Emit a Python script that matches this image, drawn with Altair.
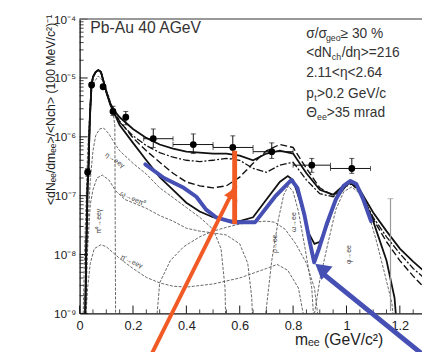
import altair as alt
import pandas as pd

# ---------------- measured data points ----------------
pt_m   = [0.03, 0.045, 0.088, 0.125, 0.173, 0.276, 0.426, 0.574, 0.72, 0.87, 1.02]
pt_v   = [2.5e-7, 7.6e-6, 7.1e-6, 2.7e-6, 2.15e-6, 9.3e-7, 7.4e-7, 6.6e-7, 5.6e-7, 3.3e-7, 2.9e-7]
pt_hi  = [2.9e-7, 8.3e-6, 7.6e-6, 3.3e-6, 2.7e-6, 1.36e-6, 1.12e-6, 1.04e-6, 7.9e-7, 4.3e-7, 4.3e-7]
pt_lo  = [2.15e-7, 7.1e-6, 6.6e-6, 2.3e-6, 1.6e-6, 6.6e-7, 5.2e-7, 4.3e-7, 4.3e-7, 2.5e-7, 2.4e-7]
pt_xlo = [0.03, 0.045, 0.088, 0.125, 0.173, 0.24, 0.35, 0.50, 0.65, 0.80, 0.94]
pt_xhi = [0.03, 0.045, 0.088, 0.125, 0.173, 0.35, 0.50, 0.65, 0.80, 0.94, 1.09]

# systematic error bar
sys_m = [1.165]
sys_lo = [1.1e-9]
sys_hi = [8.9e-8]

# ---------------- summed curves ----------------
sum_m = [0.02, 0.025, 0.03, 0.033, 0.038, 0.044, 0.05, 0.06, 0.07, 0.08, 0.09, 0.1, 0.115, 0.13,
         0.15, 0.2, 0.25, 0.3, 0.35, 0.4, 0.45, 0.5, 0.55, 0.6, 0.65, 0.7, 0.75, 0.8, 0.85, 0.9,
         0.95, 1.0, 1.02, 1.05, 1.1, 1.15, 1.2, 1.25, 1.3]
total_v = [5e-10, 1.26e-8, 1.52e-7, 2.7e-7, 1.85e-6, 7.1e-6, 1.04e-5, 1.26e-5, 1.36e-5, 1.26e-5, 8.6e-6,
           5.8e-6, 3.7e-6, 2.8e-6, 2.15e-6, 1.36e-6, 9.6e-7, 7.4e-7, 6.3e-7, 5.6e-7, 5.4e-7, 5.2e-7,
           5.2e-7, 4.8e-7, 4.0e-7, 5.2e-7, 5.8e-7, 5.2e-7, 2.4e-7, 1.26e-7, 1.04e-7, 1.65e-7, 1.71e-7,
           1.26e-7, 5.2e-8, 2.5e-8, 1.26e-8, 7.6e-9, 4.8e-9]
dashed_v = [5e-10, 1.26e-8, 1.52e-7, 2.7e-7, 1.85e-6, 7.1e-6, 1.04e-5, 1.26e-5, 1.36e-5, 1.26e-5, 8.6e-6,
            5.8e-6, 3.6e-6, 2.6e-6, 1.85e-6, 9.6e-7, 5.8e-7, 3.7e-7, 2.4e-7, 1.71e-7, 1.47e-7, 1.36e-7,
            1.47e-7, 2.07e-7, 3.55e-7, 5.8e-7, 7.4e-7, 6.6e-7, 2.9e-7, 1.36e-7, 1.0e-7, 1.47e-7, 1.58e-7,
            1.17e-7, 4.0e-8, 1.65e-8, 7.9e-9, 4.3e-9, 2.5e-9]
dashdot_v = [5e-10, 1.26e-8, 1.52e-7, 2.7e-7, 1.85e-6, 7.1e-6, 1.04e-5, 1.26e-5, 1.36e-5, 1.26e-5, 8.6e-6,
             5.8e-6, 3.65e-6, 2.7e-6, 1.78e-6, 1.04e-6, 7.1e-7, 5.4e-7, 4.5e-7, 4.0e-7, 3.8e-7, 4.0e-7,
             4.3e-7, 4.0e-7, 2.9e-7, 2.5e-7, 3.3e-7, 3.7e-7, 1.85e-7, 1.08e-7, 9.6e-8, 1.47e-7, 1.58e-7,
             1.17e-7, 4.3e-8, 2.0e-8, 1.04e-8, 5.8e-9, 3.7e-9]

cock_m = [0.02, 0.025, 0.03, 0.033, 0.038, 0.044, 0.05, 0.06, 0.07, 0.08, 0.09, 0.1, 0.115, 0.13, 0.15,
          0.2, 0.25, 0.3, 0.35, 0.4, 0.45, 0.5, 0.55, 0.6, 0.65, 0.7, 0.75, 0.78, 0.8, 0.83, 0.86, 0.88,
          0.9, 0.93, 0.96, 1.0, 1.02, 1.05, 1.1, 1.15, 1.18, 1.19]
cock_v = [5e-10, 1.26e-8, 1.52e-7, 2.7e-7, 1.85e-6, 7.1e-6, 1.04e-5, 1.26e-5, 1.36e-5, 1.26e-5, 8.6e-6,
          5.8e-6, 3.5e-6, 2.5e-6, 1.58e-6, 7.9e-7, 4.0e-7, 2.07e-7, 1.26e-7, 7.6e-8, 5.4e-8, 4.3e-8,
          3.8e-8, 3.7e-8, 4.3e-8, 8.6e-8, 1.71e-7, 2.15e-7, 1.85e-7, 7.1e-8, 2.24e-8, 1.52e-8, 1.65e-8,
          3.3e-8, 8.6e-8, 1.52e-7, 1.71e-7, 1.26e-7, 3.7e-8, 7.9e-9, 1.85e-9, 5e-10]

# ---------------- individual sources (thin) ----------------
pi0_m = [0.012, 0.02, 0.03, 0.04, 0.05, 0.07, 0.09, 0.11, 0.125, 0.132, 0.135]
pi0_v = [5e-10, 1.85e-8, 5.8e-7, 4.0e-6, 7.9e-6, 1.08e-5, 8.6e-6, 4.8e-6, 2.7e-6, 1.52e-6, 5e-10]
eta_m = [0.02, 0.03, 0.04, 0.05, 0.06, 0.075, 0.09, 0.11, 0.13, 0.15, 0.2, 0.25, 0.3, 0.35, 0.4, 0.45,
         0.5, 0.53, 0.545, 0.548]
eta_v = [5e-10, 2.7e-8, 1.85e-7, 5.8e-7, 1.04e-6, 1.36e-6, 1.41e-6, 1.12e-6, 7.9e-7, 5.8e-7, 3.55e-7,
         2.33e-7, 1.36e-7, 9.3e-8, 6.3e-8, 4.3e-8, 2.7e-8, 1.26e-8, 2.7e-9, 5e-10]
omd_m = [0.02, 0.03, 0.04, 0.05, 0.065, 0.085, 0.11, 0.135, 0.17, 0.2, 0.25, 0.3, 0.35, 0.4, 0.45, 0.5,
         0.55, 0.6, 0.63, 0.645, 0.65]
omd_v = [5e-10, 1.26e-8, 7.1e-8, 1.26e-7, 2.0e-7, 2.24e-7, 1.85e-7, 1.21e-7, 8.6e-8, 7.6e-8, 6.1e-8,
         4.6e-8, 3.7e-8, 2.8e-8, 2.5e-8, 2.33e-8, 2.15e-8, 1.52e-8, 7.1e-9, 1.85e-9, 5e-10]
etap_m = [0.02, 0.03, 0.04, 0.055, 0.08, 0.1, 0.15, 0.2, 0.25, 0.3, 0.35, 0.4, 0.5, 0.6, 0.7, 0.74,
          0.78, 0.82, 0.85]
etap_v = [5e-10, 2.7e-9, 7.1e-9, 1.26e-8, 1.47e-8, 1.36e-8, 8.6e-9, 5.8e-9, 4.1e-9, 3.3e-9, 2.9e-9,
          2.8e-9, 3.16e-9, 4.0e-9, 5.8e-9, 6.8e-9, 5.4e-9, 2.7e-9, 5e-10]
rho_m = [0.285, 0.3, 0.34, 0.39, 0.45, 0.5, 0.55, 0.6, 0.65, 0.7, 0.73, 0.77, 0.81, 0.85, 0.88, 0.9]
rho_v = [5e-10, 3.3e-9, 7.9e-9, 1.36e-8, 2.0e-8, 2.5e-8, 2.9e-8, 3.3e-8, 3.55e-8, 3.7e-8, 3.55e-8,
         2.7e-8, 1.52e-8, 7.1e-9, 2.7e-9, 5e-10]
omg_m = [0.69, 0.72, 0.745, 0.765, 0.782, 0.8, 0.82, 0.845, 0.87, 0.88]
omg_v = [5e-10, 7.9e-9, 4.0e-8, 1.04e-7, 1.47e-7, 1.17e-7, 5.4e-8, 1.26e-8, 2.7e-9, 5e-10]
phi_m = [0.87, 0.9, 0.93, 0.96, 0.99, 1.02, 1.05, 1.08, 1.11, 1.14, 1.17, 1.18]
phi_v = [5e-10, 3.7e-9, 1.52e-8, 5.8e-8, 1.17e-7, 1.41e-7, 1.08e-7, 5.4e-8, 1.85e-8, 5.4e-9, 1.52e-9, 5e-10]

comp_labels = ["π⁰→eeγ", "η→eeγ", "ω→eeπ⁰", "η'→eeγ", "ρ→ee", "ω→ee", "φ→ee"]
comp_lab_m = [0.074, 0.132, 0.199, 0.195, 0.732, 0.805, 1.011]
comp_lab_v = [3.7e-8, 4.0e-7, 8.9e-8, 7.6e-9, 1.52e-8, 3.55e-8, 1.0e-8]
comp_lab_ang = [270, 35, 25, 25, 270, 270, 270]

# ---------------- slide annotations ----------------
blue_m = [0.246, 0.316, 0.39, 0.4375, 0.474, 0.511, 0.574, 0.658, 0.732, 0.768, 0.794, 0.816, 0.842,
          0.864, 0.879, 0.897, 0.926, 0.96, 0.989, 1.015, 1.037, 1.063, 1.092]
blue_v = [3.4e-7, 2.0e-7, 1.36e-7, 9.6e-8, 5.8e-8, 4.3e-8, 3.55e-8, 3.55e-8, 9.6e-8, 1.41e-7, 1.85e-7,
          1.36e-7, 4.8e-8, 1.52e-8, 7.4e-9, 1.26e-8, 3.3e-8, 8.6e-8, 1.47e-7, 1.78e-7, 1.58e-7, 8.6e-8, 3.7e-8]
# arrows: [x_tail, x_tip], [y_tail, y_tip]
org_bar_m = [0.581, 0.581]
org_bar_v = [5.8e-7, 3.3e-8]
org_arrow_m = [0.261, 0.585]
org_arrow_v = [1.7e-10, 1.5e-7]
org_head = (0.577, 1.12e-7, 27)
blue_arrow_m = [1.32, 0.915]
blue_arrow_v = [1.5e-10, 4.6e-9]
blue_head = (0.905, 5.8e-9, 309)

# text block
info_text = ["σ/σ", "geo", "≥ 30 %", "<dN", "ch", "/dη>=216", "2.11<η<2.64", "p", "t", ">0.2 GeV/c",
             "Θ", "ee", ">35 mrad"]
info_m = [0.849, 0.923, 0.978, 0.849, 0.945, 0.982, 0.849, 0.849, 0.879, 0.89, 0.849, 0.89, 0.926]
info_v = [5.6e-5, 4.8e-5, 5.6e-5, 2.6e-5, 2.24e-5, 2.6e-5, 1.21e-5, 5.4e-6, 4.6e-6, 5.4e-6, 2.5e-6, 2.15e-6, 2.5e-6]
info_fs = [14, 9, 14, 14, 9, 14, 14, 14, 9, 14, 14, 9, 14]

# axes ticks
x_labels = [0, 0.2, 0.4, 0.6, 0.8, 1.0, 1.2]
x_minor = [0.05, 0.1, 0.15, 0.25, 0.3, 0.35, 0.45, 0.5, 0.55, 0.65, 0.7, 0.75, 0.85, 0.9, 0.95, 1.05, 1.1, 1.15, 1.25]
y_major = [1e-9, 1e-8, 1e-7, 1e-6, 1e-5, 1e-4]
y_minor = [k * 10.0 ** e for e in range(-9, -4) for k in range(2, 10)]

XMAX = 1.283
BLUE = "#4650b4"
ORANGE = "#f15a24"
FONT = "Liberation Sans"

xs = alt.Scale(domain=[0, XMAX], nice=False, zero=False)
ys = alt.Scale(type="log", domain=[1e-9, 1e-4], nice=False)
xaxis = alt.Axis(values=x_labels, format="~g", ticks=False, grid=False, labelFlush=False,
                 labelPadding=6, labelFontSize=13, title="mₑₑ (GeV/c²)", titleFontSize=16,
                 titleFontWeight="normal", titleX=264, titleY=27, titleBaseline="middle",
                 titleAlign="center")
yaxis = alt.Axis(values=y_major, ticks=False, grid=False, labelFlush=False, labelPadding=4,
                 labelFontSize=12,
                 labelExpr="['10⁻⁹','10⁻⁸','10⁻⁷','10⁻⁶','10⁻⁵','10⁻⁴'][round(log(datum.value)/LN10)+9]",
                 title="<dNₑₑ/dmₑₑ>/<Nch> (100 MeV/c²)⁻¹", titleFontSize=12.5, titleFontWeight="normal",
                 titleX=-30, titleY=92, titleAngle=270, titleBaseline="middle", titleAlign="center")

X = alt.X("m:Q", scale=xs, axis=xaxis)
Y = alt.Y("v:Q", scale=ys, axis=yaxis)


def df(ms, vs, **extra):
    d = pd.DataFrame({"m": ms, "v": vs})
    for k, val in extra.items():
        d[k] = val
    return d


# thin component curves
thin = pd.concat([
    df(pi0_m, pi0_v, c="pi0"), df(eta_m, eta_v, c="eta"), df(omd_m, omd_v, c="omd"),
    df(etap_m, etap_v, c="etap"), df(rho_m, rho_v, c="rho"), df(omg_m, omg_v, c="omg"),
    df(phi_m, phi_v, c="phi")])
thin_layer = alt.Chart(thin).mark_line(color="#555", strokeWidth=0.9, strokeDash=[3, 1.5], clip=True).encode(
    x=X, y=Y, detail="c:N")

total_layer = alt.Chart(df(sum_m, total_v)).mark_line(color="#111", strokeWidth=1.8, clip=True).encode(x=X, y=Y)
dashed_layer = alt.Chart(df(sum_m, dashed_v)).mark_line(color="#111", strokeWidth=1.4, strokeDash=[7, 3],
                                                       clip=True).encode(x=X, y=Y)
dashdot_layer = alt.Chart(df(sum_m, dashdot_v)).mark_line(color="#111", strokeWidth=1.3,
                                                         strokeDash=[7, 2, 2, 2], clip=True).encode(x=X, y=Y)
cock_layer = alt.Chart(df(cock_m, cock_v)).mark_line(color="#111", strokeWidth=1.8, clip=True).encode(x=X, y=Y)

# systematic bar
sys_df = pd.DataFrame({"m": sys_m, "v": sys_lo, "v2": sys_hi})
sys_layer = alt.Chart(sys_df).mark_rule(color="#999", strokeWidth=1.2).encode(x=X, y=Y, y2="v2:Q")
sys_cap = alt.Chart(pd.DataFrame({"m": sys_m, "v": sys_hi})).mark_tick(
    orient="horizontal", size=6, thickness=1, color="#999").encode(x=X, y=Y)

# data points with errors
pts = pd.DataFrame({"m": pt_m, "v": pt_v, "lo": pt_lo, "hi": pt_hi, "xlo": pt_xlo, "xhi": pt_xhi})
verr = alt.Chart(pts.assign(v=pts["lo"], v2=pts["hi"])).mark_rule(color="#111", strokeWidth=1).encode(
    x=X, y=Y, y2="v2:Q")
herr = alt.Chart(pts.assign(m=pts["xlo"], m2=pts["xhi"])).mark_rule(color="#111", strokeWidth=1).encode(
    x=X, x2="m2:Q", y=Y)
caps_df = pd.concat([pts.assign(v=pts["hi"]), pts.assign(v=pts["lo"])])
vcaps = alt.Chart(caps_df).mark_tick(orient="horizontal", size=5, thickness=1, color="#111").encode(x=X, y=Y)
binned = pts[pts["xhi"] > pts["xlo"]]
hcaps_df = pd.concat([binned.assign(m=binned["xlo"]), binned.assign(m=binned["xhi"])])
hcaps = alt.Chart(hcaps_df).mark_tick(orient="vertical", size=5, thickness=1, color="#111").encode(x=X, y=Y)
dots = alt.Chart(pts).mark_circle(color="#000", size=48, opacity=1).encode(x=X, y=Y)

# annotations
blue_line = alt.Chart(df(blue_m, blue_v)).mark_line(color=BLUE, strokeWidth=4, strokeCap="round",
                                                    strokeJoin="round").encode(x=X, y=Y)
org_bar = alt.Chart(pd.DataFrame({"m": [org_bar_m[0]], "v": [org_bar_v[0]], "v2": [org_bar_v[1]]})).mark_rule(
    color=ORANGE, strokeWidth=5).encode(x=X, y=Y, y2="v2:Q")
org_arrow = alt.Chart(pd.DataFrame({"m": [org_arrow_m[0]], "m2": [org_arrow_m[1]],
                                    "v": [org_arrow_v[0]], "v2": [org_arrow_v[1]]})).mark_rule(
    color=ORANGE, strokeWidth=4).encode(x=X, x2="m2:Q", y=Y, y2="v2:Q")
blue_arrow = alt.Chart(pd.DataFrame({"m": [blue_arrow_m[0]], "m2": [blue_arrow_m[1]],
                                     "v": [blue_arrow_v[0]], "v2": [blue_arrow_v[1]]})).mark_rule(
    color=BLUE, strokeWidth=5).encode(x=X, x2="m2:Q", y=Y, y2="v2:Q")
heads_df = pd.DataFrame({"m": [org_head[0], blue_head[0]], "v": [org_head[1], blue_head[1]],
                         "a": [org_head[2], blue_head[2]], "col": [ORANGE, BLUE],
                         "s": [230, 320]})
heads = alt.Chart(heads_df).mark_point(shape="triangle-up", filled=True, opacity=1, strokeWidth=0).encode(
    x=X, y=Y, angle=alt.Angle("a:Q", scale=None), color=alt.Color("col:N", scale=None),
    size=alt.Size("s:Q", scale=None))

# axis ticks drawn inward
ytm = alt.Chart(pd.DataFrame({"m": 0.0, "m2": 0.03, "v": y_major})).mark_rule(
    color="#111", strokeWidth=1).encode(x=X, x2="m2:Q", y=Y)
ytn = alt.Chart(pd.DataFrame({"m": 0.0, "m2": 0.015, "v": y_minor})).mark_rule(
    color="#111", strokeWidth=0.8).encode(x=X, x2="m2:Q", y=Y)
xtm = alt.Chart(pd.DataFrame({"m": x_labels, "v": 1e-9, "v2": 1.36e-9})).mark_rule(
    color="#111", strokeWidth=1).encode(x=X, y=Y, y2="v2:Q")
xtn = alt.Chart(pd.DataFrame({"m": x_minor, "v": 1e-9, "v2": 1.17e-9})).mark_rule(
    color="#111", strokeWidth=0.8).encode(x=X, y=Y, y2="v2:Q")
top_line = alt.Chart(pd.DataFrame({"m": [0.0], "m2": [XMAX], "v": [1e-4]})).mark_rule(
    color="#777", strokeWidth=1.5).encode(x=X, x2="m2:Q", y=Y)

# texts
title_txt = alt.Chart(pd.DataFrame({"m": [0.040], "v": [7.1e-5], "t": ["Pb-Au 40 AGeV"]})).mark_text(
    align="left", baseline="middle", fontSize=16, font=FONT, color="#333").encode(x=X, y=Y, text="t:N")
info_txt = alt.Chart(pd.DataFrame({"m": info_m, "v": info_v, "t": info_text, "fs": info_fs})).mark_text(
    align="left", baseline="middle", font=FONT, color="#333").encode(
    x=X, y=Y, text="t:N", size=alt.Size("fs:Q", scale=None))
lab_txt = alt.Chart(pd.DataFrame({"m": comp_lab_m, "v": comp_lab_v, "t": comp_labels,
                                  "a": comp_lab_ang})).mark_text(
    align="center", baseline="middle", font=FONT, fontSize=7, color="#444").encode(
    x=X, y=Y, text="t:N", angle=alt.Angle("a:Q", scale=None))

chart = alt.layer(
    thin_layer, lab_txt, dashdot_layer, dashed_layer, total_layer, cock_layer,
    sys_layer, sys_cap, herr, verr, vcaps, hcaps, dots,
    ytm, ytn, xtm, xtn, top_line,
    blue_line, org_bar, org_arrow, blue_arrow, heads,
    title_txt, info_txt,
).properties(
    width=349, height=300,
    padding={"left": 73, "top": 8, "right": 0, "bottom": 36},
    autosize=alt.AutoSizeParams(type="none"),
).configure_axis(
    labelFont=FONT, titleFont=FONT, labelColor="#222", titleColor="#222",
    domainColor="#111", domainWidth=1.3,
).configure_view(stroke=None)

chart.save("out.html", embed_options={"renderer": "svg", "actions": False})
